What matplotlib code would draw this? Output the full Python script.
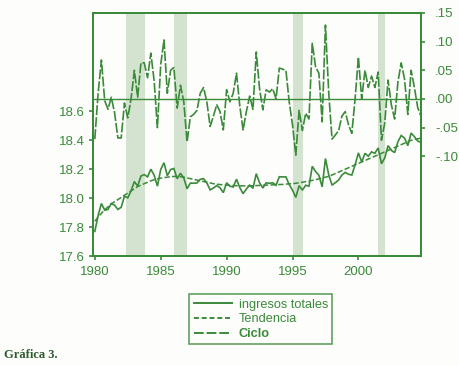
import matplotlib
matplotlib.use("Agg")
import matplotlib.pyplot as plt
from matplotlib.lines import Line2D
from matplotlib.ticker import FuncFormatter

# ---------------- data (quarterly 1980Q1 - 2004Q4) ----------------
start_year = 1980
n_quarters = 100

ingresos = [
    17.77, 17.88, 17.963, 17.917, 17.922, 17.963, 17.951, 17.922,
    17.937, 18.013, 18.002, 18.05, 18.115, 18.083, 18.153, 18.163,
    18.147, 18.20, 18.159, 18.083, 18.198, 18.245, 18.155, 18.198,
    18.205, 18.134, 18.172, 18.14, 18.065, 18.104, 18.103, 18.105,
    18.13, 18.135, 18.105, 18.057, 18.07, 18.087, 18.072, 18.038,
    18.106, 18.083, 18.077, 18.131, 18.073, 18.031, 18.063, 18.09,
    18.068, 18.169, 18.106, 18.07, 18.106, 18.103, 18.106, 18.089,
    18.148, 18.147, 18.147, 18.094, 18.055, 18.005, 18.086, 18.055,
    18.089, 18.083, 18.22, 18.184, 18.159, 18.078, 18.274, 18.161,
    18.09, 18.107, 18.125, 18.16, 18.178, 18.165, 18.16, 18.23,
    18.313, 18.25, 18.31, 18.29, 18.32, 18.31, 18.347, 18.238,
    18.278, 18.363, 18.33, 18.315, 18.39, 18.433, 18.415, 18.363,
    18.45, 18.425, 18.395, 18.385,
]

tendencia = [
    17.84, 17.87, 17.895, 17.92, 17.94, 17.96, 17.975, 17.99,
    18.005, 18.02, 18.035, 18.05, 18.065, 18.08, 18.09, 18.10,
    18.11, 18.12, 18.127, 18.133, 18.138, 18.142, 18.145, 18.148,
    18.15, 18.15, 18.148, 18.145, 18.14, 18.135, 18.13, 18.125,
    18.12, 18.115, 18.11, 18.105, 18.10, 18.097, 18.094, 18.092,
    18.09, 18.088, 18.087, 18.086, 18.085, 18.085, 18.085, 18.085,
    18.086, 18.087, 18.088, 18.089, 18.09, 18.091, 18.092, 18.093,
    18.094, 18.095, 18.097, 18.099, 18.10, 18.103, 18.106, 18.11,
    18.114, 18.118, 18.123, 18.128, 18.133, 18.139, 18.145, 18.151,
    18.16, 18.17, 18.18, 18.19, 18.20, 18.21, 18.22, 18.23,
    18.24, 18.25, 18.26, 18.27, 18.28, 18.29, 18.30, 18.31,
    18.32, 18.33, 18.34, 18.35, 18.36, 18.37, 18.38, 18.39,
    18.40, 18.405, 18.41, 18.415,
]

ciclo = [
    -0.07, 0.01, 0.068, -0.003, -0.018, 0.003, -0.024, -0.068,
    -0.068, -0.007, -0.033, 0.0, 0.05, 0.003, 0.063, 0.063,
    0.037, 0.08, 0.032, -0.05, 0.06, 0.103, 0.01, 0.05,
    0.055, -0.016, 0.024, -0.005, -0.075, -0.031, -0.027, -0.02,
    0.01, 0.02, -0.005, -0.048, -0.03, -0.01, -0.022, -0.054,
    0.016, -0.005, 0.01, 0.045, -0.012, -0.054, -0.022, 0.005,
    -0.018, 0.082, 0.018, -0.019, 0.016, 0.012, 0.018, 0.0,
    0.054, 0.052, 0.05, -0.005, -0.045, -0.098, -0.02, -0.055,
    -0.025, -0.035, 0.097, 0.056, 0.045, -0.04, 0.129, 0.01,
    -0.07, -0.063, -0.055, -0.03, -0.022, -0.045, -0.06, 0.0,
    0.073, 0.0, 0.05, 0.02, 0.04, 0.02, 0.047, -0.072,
    -0.042, 0.033, -0.01, -0.035, 0.03, 0.063, 0.035, -0.027,
    0.05, 0.02, -0.015, -0.03,
]

recesiones = [(1982.4, 1983.8), (1986.0, 1987.0), (1995.0, 1995.8), (2001.5, 2002.0)]

left_ticks = [17.6, 17.8, 18.0, 18.2, 18.4, 18.6]
right_ticks = [-0.10, -0.05, 0.00, 0.05, 0.10, 0.15]
x_ticks = [1980, 1985, 1990, 1995, 2000]
legend_labels = ["ingresos totales", "Tendencia", "Ciclo"]
caption = "Gráfica 3."

# ---------------- style ----------------
GREEN = "#3a8a3a"
SHADE = "#d3e3d0"
plt.rcParams["font.family"] = ["Liberation Sans", "DejaVu Sans"]

t = [start_year + i / 4 for i in range(n_quarters)]

fig = plt.figure(figsize=(4.59, 3.66), dpi=100)
fig.patch.set_facecolor("#fdfdfb")
ax = fig.add_axes([0.2037, 0.3005, 0.9172 - 0.2037, 0.9645 - 0.3005])
ax.set_facecolor("#fdfdfb")
ax2 = ax.twinx()

for a, b in recesiones:
    ax.axvspan(a, b, color=SHADE, lw=0, zorder=0)

ax.plot(t, ingresos, color=GREEN, lw=1.2, solid_joinstyle="miter", zorder=3)
ax.plot(t, tendencia, color=GREEN, lw=1.1, linestyle=(0, (3.5, 1.5)), zorder=3)
ax2.axhline(0, color=GREEN, lw=1.0)
ax2.plot(t, ciclo, color=GREEN, lw=1.2, linestyle=(0, (6, 1.2)), zorder=3)

ax.set_xlim(1979.9, 2004.75)
ax.set_ylim(17.6, 19.28)
ax2.set_ylim(-0.274, 0.15)

ax.set_xticks(x_ticks)
ax.set_yticks(left_ticks)
ax.yaxis.set_major_formatter(FuncFormatter(lambda v, p: f"{v:.1f}"))
ax2.set_yticks(right_ticks)
ax2.yaxis.set_major_formatter(FuncFormatter(lambda v, p: f"{v:.2f}".replace("0.", ".")))

for a in (ax, ax2):
    for s in a.spines.values():
        s.set_color(GREEN)
        s.set_linewidth(1.4)
    a.tick_params(colors=GREEN, labelcolor=GREEN, labelsize=9.5, width=1.2, length=3, direction="out")
ax.tick_params(axis="x", pad=4)
ax.tick_params(axis="y", pad=3)
ax2.tick_params(axis="y", pad=7)

handles = [
    Line2D([], [], color=GREEN, lw=1.4),
    Line2D([], [], color=GREEN, lw=1.4, linestyle=(0, (2.5, 1.5))),
    Line2D([], [], color=GREEN, lw=1.4, linestyle=(0, (5, 1.5))),
]
leg = fig.legend(handles, legend_labels, loc="upper left", bbox_to_anchor=(183 / 459, 1 - 288 / 366),
                 frameon=True, fancybox=False, fontsize=9.2, handlelength=3.0, handletextpad=0.5,
                 labelspacing=0.2, borderpad=0.35, labelcolor=GREEN)
leg.get_frame().set_edgecolor(GREEN)
leg.get_frame().set_linewidth(1.2)
leg.get_frame().set_facecolor("#fdfdfb")
leg.get_texts()[2].set_fontweight("bold")

fig.text(4 / 459, 1 - 355 / 366, caption, fontsize=9, fontweight="bold",
         family=["Liberation Serif", "DejaVu Serif"], color="#2f5a2f", va="center", ha="left")

fig.savefig("out.png", dpi=100, facecolor=fig.get_facecolor())
